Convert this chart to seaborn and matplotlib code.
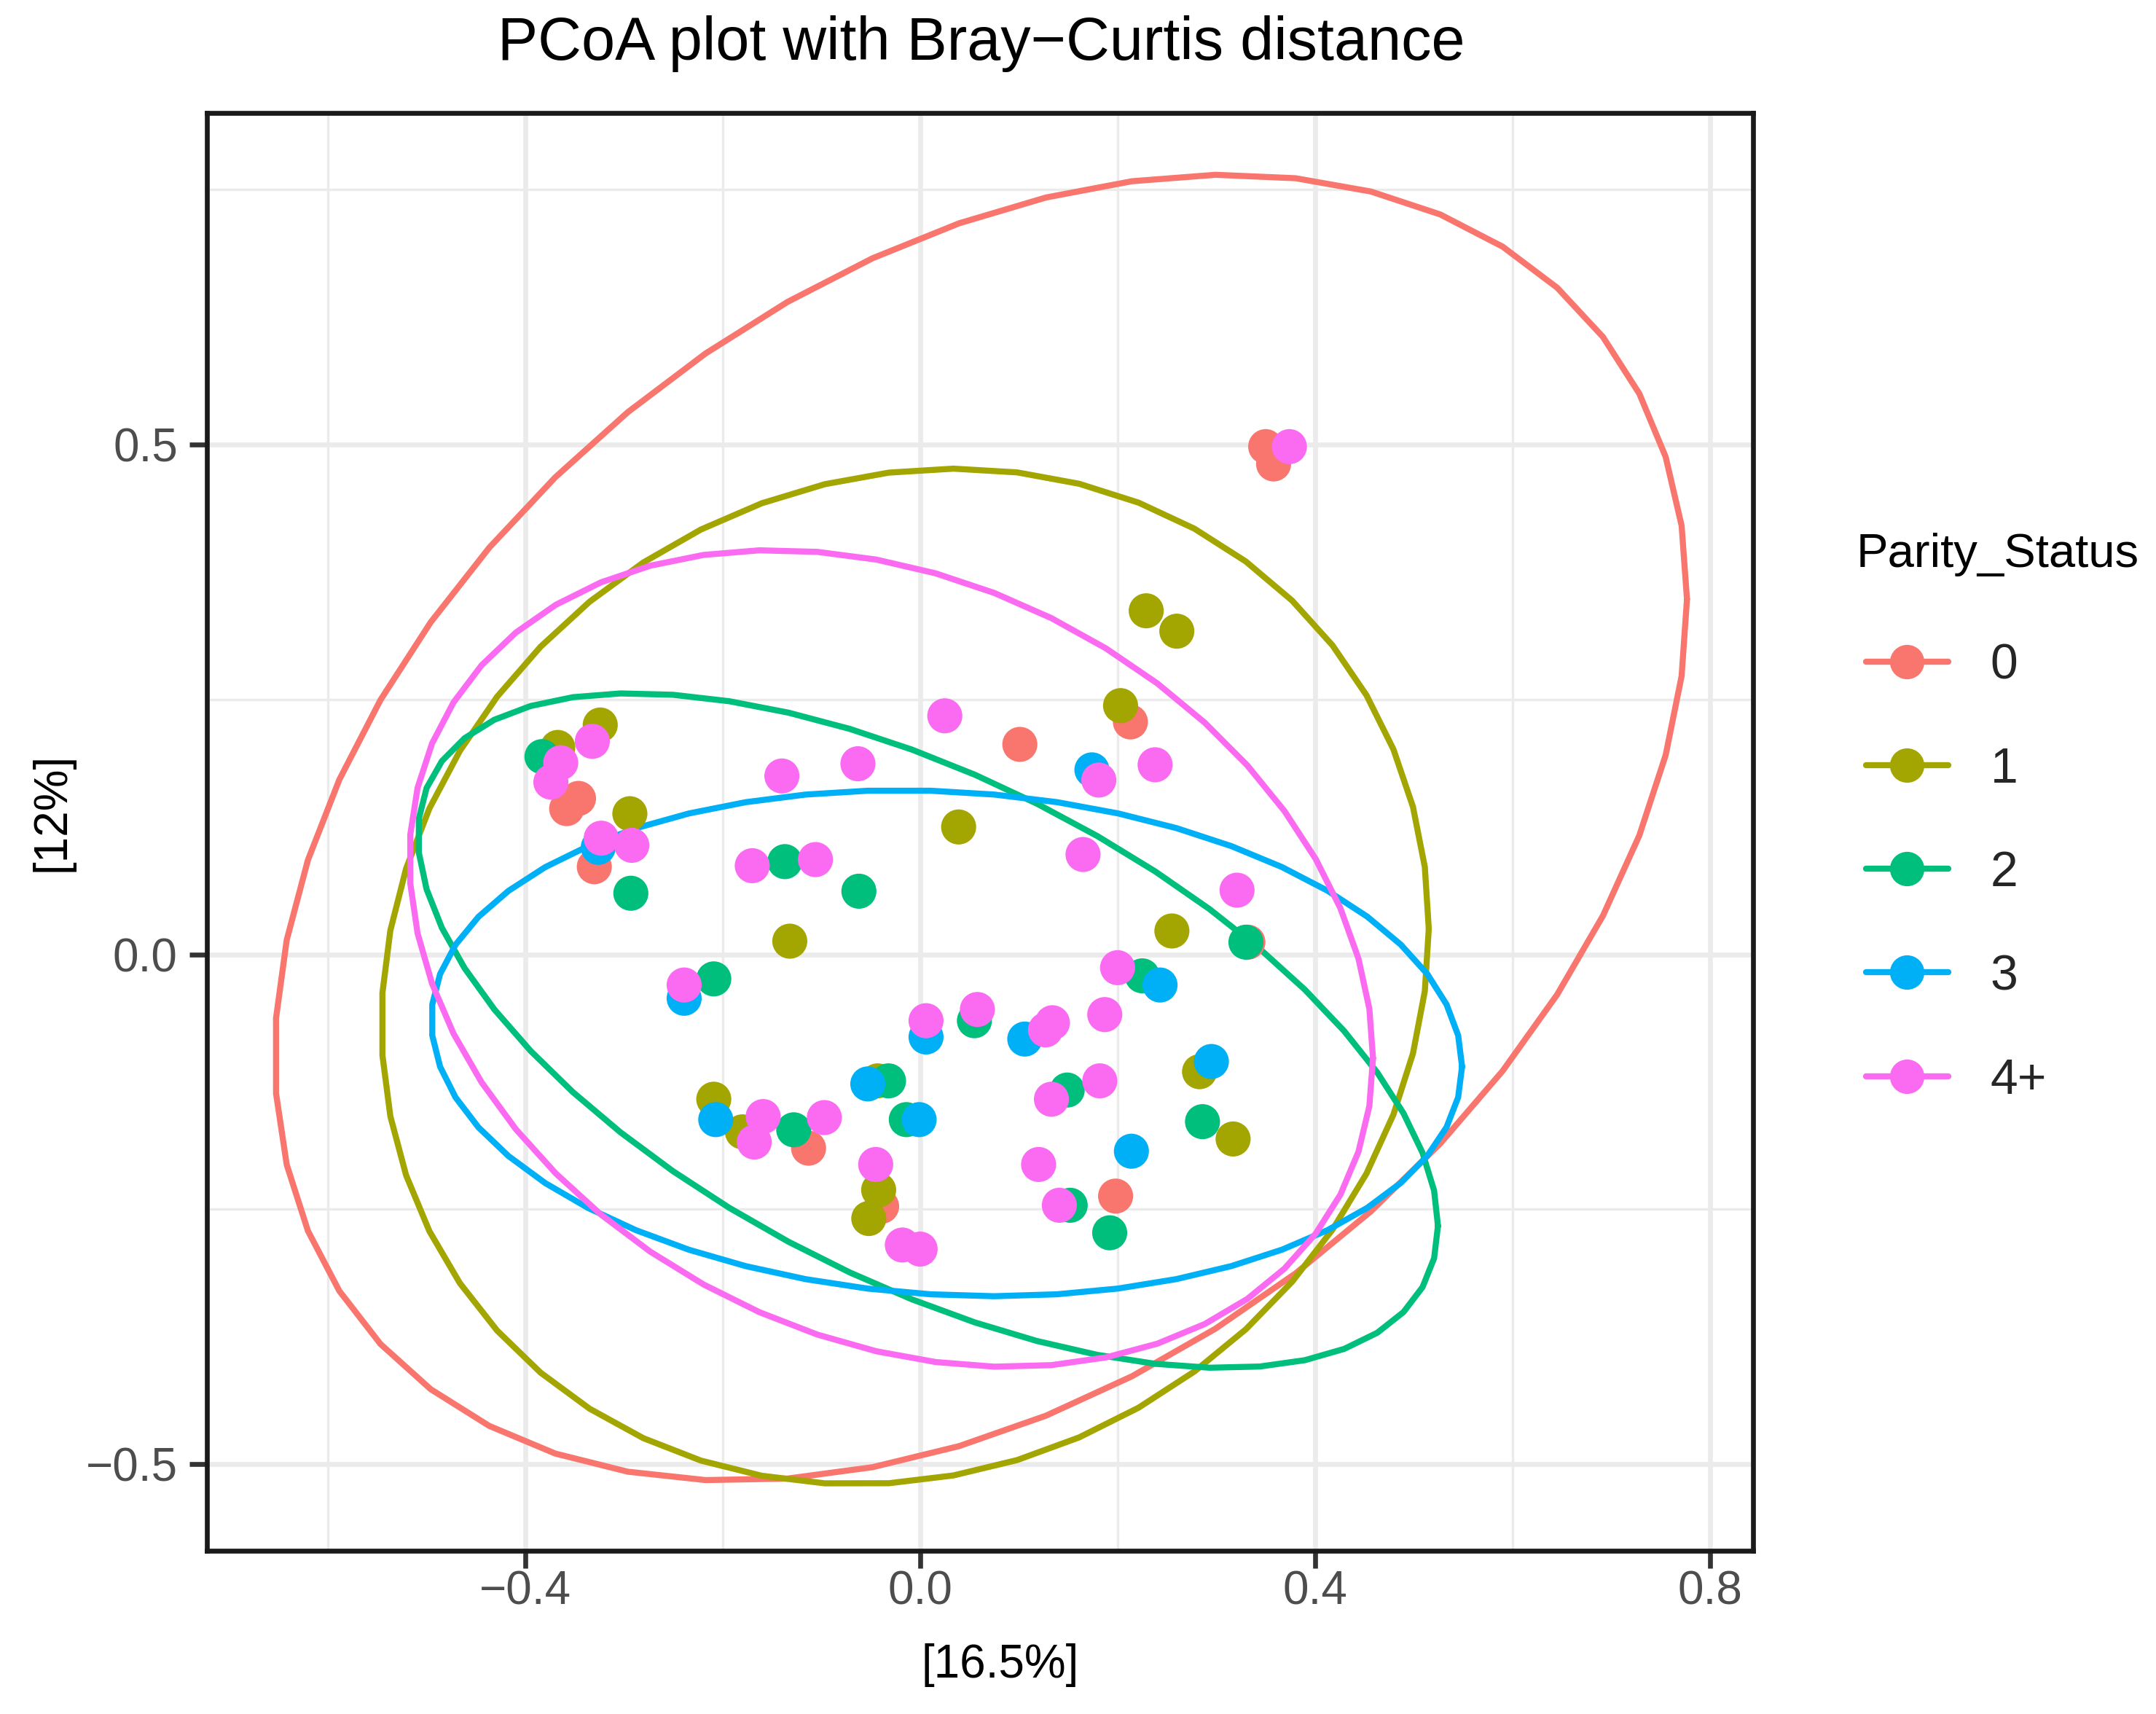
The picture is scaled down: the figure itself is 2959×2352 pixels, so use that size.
import numpy as np
import pandas as pd
import matplotlib
matplotlib.use("Agg")
import matplotlib.pyplot as plt
import seaborn as sns
from matplotlib.lines import Line2D
from matplotlib.ticker import MultipleLocator

# ---------------- data ----------------
groups = ["0", "1", "2", "3", "4+"]
palette = ["#F8766D", "#A3A500", "#00BF7D", "#00B0F6", "#FA6BF2"]

pc1_g0 = [0.350, 0.358, 0.101, 0.213, -0.346, -0.358, -0.330, -0.113, -0.039, 0.198, 0.332]
pc2_g0 = [0.498, 0.481, 0.206, 0.228, 0.153, 0.143, 0.086, -0.190, -0.247, -0.237, 0.012]

pc1_g1 = [-0.324, -0.367, -0.294, 0.039, -0.132, 0.229, 0.260, 0.203, 0.255, 0.283, 0.317,
          -0.209, -0.180, -0.043, -0.042, -0.052]
pc2_g1 = [0.225, 0.203, 0.138, 0.125, 0.013, 0.337, 0.317, 0.244, 0.023, -0.115, -0.181,
          -0.142, -0.174, -0.124, -0.231, -0.259]

pc1_g2 = [-0.383, -0.293, -0.137, -0.062, -0.209, 0.055, -0.128, -0.032, -0.014, 0.225,
          0.149, 0.286, 0.152, 0.192, 0.330]
pc2_g2 = [0.194, 0.060, 0.091, 0.062, -0.024, -0.065, -0.172, -0.124, -0.162, -0.021,
          -0.133, -0.164, -0.246, -0.273, 0.012]

pc1_g3 = [-0.326, -0.239, -0.207, -0.053, -0.001, 0.006, 0.106, 0.243, 0.295, 0.214, 0.174]
pc2_g3 = [0.105, -0.043, -0.162, -0.127, -0.162, -0.081, -0.083, -0.030, -0.105, -0.193, 0.181]

pc1_g4 = [0.374, -0.332, -0.364, -0.374, -0.323, -0.292, 0.025, -0.140, -0.063, -0.170,
          -0.106, -0.239, 0.006, 0.058, 0.127, 0.134, 0.187, 0.200, 0.181, 0.238, 0.165,
          0.321, -0.159, -0.168, -0.097, -0.045, -0.018, 0.000, 0.120, 0.133, 0.182, 0.141]
pc2_g4 = [0.498, 0.209, 0.188, 0.169, 0.114, 0.107, 0.234, 0.175, 0.187, 0.087,
          0.093, -0.030, -0.065, -0.054, -0.074, -0.067, -0.059, -0.013, 0.171, 0.186, 0.098,
          0.063, -0.159, -0.184, -0.160, -0.206, -0.285, -0.289, -0.206, -0.142, -0.124, -0.246]

# 95% ellipse parameters per group (centre, half-extent in x / y, correlation)
ell_cx = [0.0615, -0.0152, 0.0079, 0.0269, -0.0293]
ell_cy = [0.1243, -0.0216, -0.0747, -0.0871, -0.0040]
ell_rx = [0.7152, 0.5304, 0.5166, 0.5220, 0.4880]
ell_ry = [0.6404, 0.4980, 0.3308, 0.2481, 0.4005]
ell_rho = [0.350, 0.094, -0.579, -0.092, -0.244]

xlab = "[16.5%]"
ylab = "[12%]"
title = "PCoA plot with Bray\u2212Curtis distance"
legend_title = "Parity_Status"

pc1_all = [pc1_g0, pc1_g1, pc1_g2, pc1_g3, pc1_g4]
pc2_all = [pc2_g0, pc2_g1, pc2_g2, pc2_g3, pc2_g4]
df = pd.concat([pd.DataFrame({"PC1": a, "PC2": b, "Parity_Status": g})
                for a, b, g in zip(pc1_all, pc2_all, groups)], ignore_index=True)

# ---------------- style ----------------
sns.set_theme(style="white")
plt.rcParams["font.family"] = ["Liberation Sans", "DejaVu Sans"]
plt.rcParams["axes.unicode_minus"] = True

W, H, DPI = 2959, 2352, 200
fig = plt.figure(figsize=(W / DPI, H / DPI), dpi=DPI)
ax = fig.add_axes([0.096, 0.0952, 0.717, 0.839])

# grid
ax.set_axisbelow(True)
ax.xaxis.set_major_locator(MultipleLocator(0.4))
ax.xaxis.set_minor_locator(MultipleLocator(0.2))
ax.yaxis.set_major_locator(MultipleLocator(0.5))
ax.yaxis.set_minor_locator(MultipleLocator(0.25))
ax.grid(which="major", color="#EBEBEB", linewidth=2.4)
ax.grid(which="minor", color="#EBEBEB", linewidth=1.2)

# ellipses
t = np.linspace(0, 2 * np.pi, 52)
for i, g in enumerate(groups):
    rx, ry, rho = ell_rx[i], ell_ry[i], ell_rho[i]
    M = np.array([[rx * rx, rho * rx * ry], [rho * rx * ry, ry * ry]])
    L = np.linalg.cholesky(M)
    pts = L @ np.vstack([np.cos(t), np.sin(t)])
    ax.plot(pts[0] + ell_cx[i], pts[1] + ell_cy[i], color=palette[i], lw=3.0,
            zorder=2, solid_joinstyle="round")

# points
sns.scatterplot(data=df, x="PC1", y="PC2", hue="Parity_Status", hue_order=groups,
                palette=palette, s=300, linewidth=0, alpha=1, ax=ax, legend=False, zorder=3)

ax.set_xlim(-0.7223, 0.8434)
ax.set_ylim(-0.5849, 0.8254)
ax.set_xticks([-0.4, 0.0, 0.4, 0.8])
ax.set_xticklabels(["\u22120.4", "0.0", "0.4", "0.8"])
ax.set_yticks([-0.5, 0.0, 0.5])
ax.set_yticklabels(["\u22120.5", "0.0", "0.5"])

for sp in ax.spines.values():
    sp.set_color("#1A1A1A")
    sp.set_linewidth(2.4)
ax.tick_params(which="major", bottom=True, left=True, length=8.5, width=2.4,
               color="#333333", labelcolor="#4D4D4D", labelsize=23)
ax.tick_params(axis="x", which="major", pad=1)
ax.tick_params(axis="y", which="major", pad=6)
ax.tick_params(which="minor", length=0)

ax.set_xlabel(xlab, fontsize=23, color="black", va="center", ha="center")
ax.xaxis.set_label_coords(0.513, -0.0796)
ax.set_ylabel(ylab, fontsize=23, color="black", va="center", ha="center")
ax.yaxis.set_label_coords(-0.1004, 0.5137)

fig.text(0.455, 1 - 60 / H, title, fontsize=29.8, color="black", ha="center", va="center")

# legend
fig.text(2548 / W, 1 - 760.7 / H, legend_title, fontsize=23.5, color="black",
         ha="left", va="center")
handles = [Line2D([0], [0], color=c, lw=3.0, marker="o", markersize=17,
                  markeredgewidth=0) for c in palette]
leg = fig.legend(handles, groups, loc="upper left",
                 bbox_to_anchor=(2561 / W, 1 - 881.5 / H), frameon=False, fontsize=24.5,
                 handlelength=1.66, labelspacing=1.15, handletextpad=0.85,
                 borderpad=0, borderaxespad=0)

fig.savefig("out.png", dpi=DPI)
